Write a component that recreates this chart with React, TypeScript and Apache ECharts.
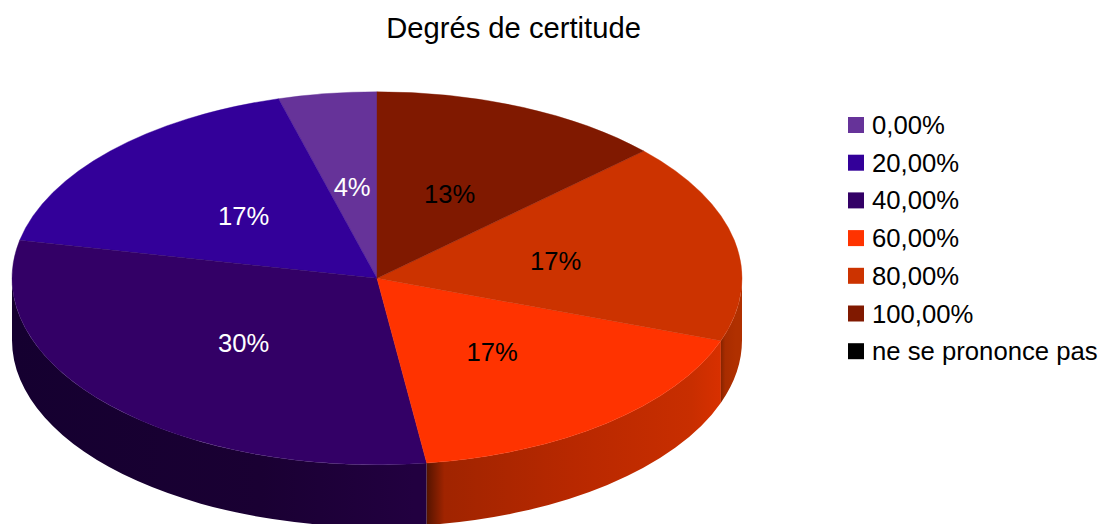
import React, { useEffect, useRef } from "react";
import * as echarts from "echarts";

const titleText = "Degrés de certitude";
const categories = ["0,00%", "20,00%", "40,00%", "60,00%", "80,00%", "100,00%", "ne se prononce pas"];
const counts = [1, 4, 7, 4, 4, 3, 0];
const colors = ["#663399", "#330099", "#330066", "#ff3300", "#cc3300", "#801900", "#000000"];
const labelColors = ["#ffffff", "#ffffff", "#ffffff", "#000000", "#000000", "#000000", "#000000"];
// clockwise order of slices beginning at the top of the pie
const drawOrder = [5, 4, 3, 2, 1, 0, 6];

const CX = 377, CY = 278.3, RX = 365, RY = 186.5, DEPTH = 62;
const total = counts.reduce((a, b) => a + b, 0);

function sliceRange(idx: number): [number, number] {
  let acc = 0;
  for (const i of drawOrder) {
    const span = (counts[i] / total) * 360;
    if (i === idx) return [acc, acc + span];
    acc += span;
  }
  return [0, 0];
}
const pt = (deg: number, dy = 0, f = 1): [number, number] => {
  const r = (deg * Math.PI) / 180;
  return [CX + RX * f * Math.sin(r), CY - RY * f * Math.cos(r) + dy];
};
const wallStops: Record<number, [number, string][]> = {
  2: [[0, "#150030"], [0.6, "#1a0033"], [0.97, "#220040"], [1, "#220040"]],
  3: [[0, "#551400"], [0.06, "#a02400"], [0.5, "#b82800"], [0.9, "#c82e00"], [1, "#d83000"]],
  4: [[0, "#862400"], [0.2, "#a82c00"], [0.7, "#b03000"], [1, "#b03000"]],
};

function renderSlice(idx: number) {
  return (_params: any, api: any) => {
    const value = api.value(0);
    if (!value) return { type: "group", children: [] };
    const [a, b] = sliceRange(idx);
    const children: any[] = [];
    const wa = Math.max(a, 90), wb = Math.min(b, 270);
    if (wb > wa) {
      const s = pt(wa), e = pt(wb), es = pt(wb, DEPTH), ss = pt(wa, DEPTH);
      const x1 = Math.min(s[0], e[0]), x2 = Math.max(s[0], e[0]);
      const stops = wallStops[idx] || [[0, colors[idx]], [1, colors[idx]]];
      children.push({
        type: "path",
        shape: { pathData: `M${s[0]} ${s[1]}A${RX} ${RY} 0 0 1 ${e[0]} ${e[1]}L${es[0]} ${es[1]}A${RX} ${RY} 0 0 0 ${ss[0]} ${ss[1]}Z` },
        style: {
          fill: new echarts.graphic.LinearGradient(x1, 0, x2, 0, stops.map(([offset, color]) => ({ offset, color })), true),
        },
      });
    }
    const s = pt(a), e = pt(b);
    const large = b - a > 180 ? 1 : 0;
    children.push({
      type: "path",
      shape: { pathData: `M${CX} ${CY}L${s[0]} ${s[1]}A${RX} ${RY} 0 ${large} 1 ${e[0]} ${e[1]}Z` },
      style: { fill: colors[idx], stroke: colors[idx], lineWidth: 0.4 },
    });
    const c = pt((a + b) / 2, 1.5, 0.5);
    children.push({
      type: "text",
      z2: 10,
      style: {
        text: `${Math.round((value / total) * 100)}%`,
        x: c[0], y: c[1],
        align: "center", verticalAlign: "middle",
        fontFamily: "Liberation Sans", fontSize: 25.6,
        fill: labelColors[idx],
      },
    });
    return { type: "group", children };
  };
}

export default function App() {
  const ref = useRef<HTMLDivElement>(null);
  useEffect(() => {
    const chart = echarts.init(ref.current!, null, { renderer: "svg" });
    chart.setOption({
      animation: false,
      backgroundColor: "#ffffff",
      title: {
        text: titleText,
        left: 513.5 - 5, top: 8, textAlign: "center",
        textStyle: { fontFamily: "Liberation Sans", fontSize: 29.2, fontWeight: "normal", color: "#000000" },
      },
      legend: {
        orient: "vertical",
        left: 843, top: 107,
        itemWidth: 16, itemHeight: 16, itemGap: 11.7,
        icon: "rect",
        selectedMode: false,
        data: categories,
        textStyle: { fontFamily: "Liberation Sans", fontSize: 25.7, color: "#000000", padding: [0, 0, 0, 3] },
      },
      series: categories.map((name, i) => ({
        type: "custom",
        name,
        coordinateSystem: "none",
        silent: true,
        itemStyle: { color: colors[i] },
        data: [[counts[i]]],
        renderItem: renderSlice(i),
      })),
    });
    return () => chart.dispose();
  }, []);
  return <div ref={ref} style={{ position: "fixed", left: 0, top: 0, width: 1102, height: 524 }} />;
}
